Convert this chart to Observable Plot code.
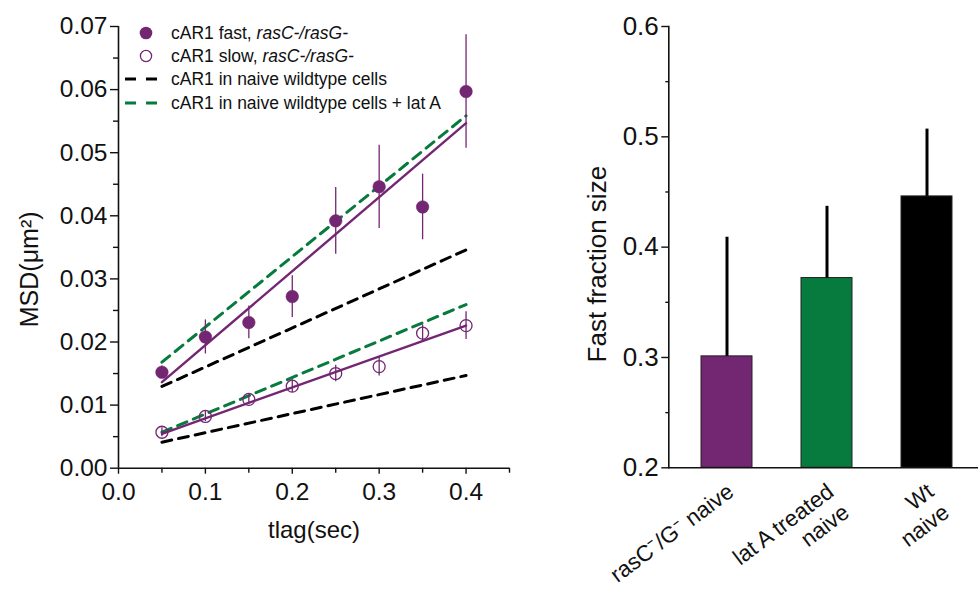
<!DOCTYPE html>
<html><head><meta charset="utf-8">
<script src="https://cdn.jsdelivr.net/npm/d3@7"></script>
<script src="https://cdn.jsdelivr.net/npm/@observablehq/plot@0.6"></script>
<style>
body{margin:0;background:#fff;overflow:hidden}
#wrap{position:relative;width:978px;height:590px;font-family:"Liberation Sans",Arial,sans-serif;color:#111}
#left,#right{position:absolute;top:0}
#left{left:0} #right{left:560px}
.lg{position:absolute;left:0;top:0}
.lgrow{position:absolute;height:24px;display:flex;align-items:center;white-space:nowrap;font-size:17.5px}
.lgmark{position:absolute;left:120px;top:0}
.lgtext{position:absolute;left:171px;top:0;line-height:24px}
</style></head><body>
<div id="wrap"><div id="left"></div><div id="right"></div><div id="legend" class="lg"></div></div>
<script>
// ---------- data: left panel (MSD vs tlag) ----------
const tlag    = [0.05, 0.10, 0.15, 0.20, 0.25, 0.30, 0.35, 0.40];
const fastMSD = [0.0152, 0.0208, 0.0231, 0.0272, 0.0392, 0.0446, 0.0414, 0.0597];
const fastErr = [0.0010, 0.0027, 0.0026, 0.0033, 0.0053, 0.0066, 0.0052, 0.0090];
const slowMSD = [0.0057, 0.0082, 0.0109, 0.0130, 0.0150, 0.0161, 0.0214, 0.0226];
const slowErr = [0.0007, 0.0008, 0.0007, 0.0010, 0.0013, 0.0015, 0.0013, 0.0022];
// fitted lines (value at first and last tlag)
const fitT       = [0.05, 0.40];
const fastFit    = [0.01363, 0.05468];
const slowFit    = [0.00545, 0.02260];
const wtFastFit  = [0.01295, 0.03460];
const wtSlowFit  = [0.00412, 0.01469];
const latFastFit = [0.01680, 0.05585];
const latSlowFit = [0.00570, 0.02594];
const legendLabels = ["cAR1 fast, ", "cAR1 slow, ", "cAR1 in naive wildtype cells", "cAR1 in naive wildtype cells + lat A"];
const legendItalic = ["rasC-/rasG-", "rasC-/rasG-", "", ""];
const xTicks = [0, 0.1, 0.2, 0.3, 0.4];
const xMinor = [0.05, 0.15, 0.25, 0.35, 0.45];
const yTicks = [0, 0.01, 0.02, 0.03, 0.04, 0.05, 0.06, 0.07];
const yMinor = [0.005, 0.015, 0.025, 0.035, 0.045, 0.055, 0.065];

// ---------- data: right panel (fast fraction) ----------
const groups       = ["rasC\u207B/G\u207B naive", "lat A treated\nnaive", "Wt\nnaive"];
const fastFraction = [0.301, 0.372, 0.446];
const fractionErr  = [0.108, 0.065, 0.061];
const barColors    = ["#732672", "#077a3d", "#000000"];
const rTicks = [0.2, 0.3, 0.4, 0.5, 0.6];
const rMinor = [0.25, 0.35, 0.45, 0.55];

const purple = "#732672", green = "#077a3d";
const FONT = "'Liberation Sans', Arial, sans-serif";

const pts = tlag.map((t, i) => ({t, fast: fastMSD[i], fe: fastErr[i], slow: slowMSD[i], se: slowErr[i]}));
const fitRows = (arr) => fitT.map((t, i) => ({t, y: arr[i]}));

const left = Plot.plot({
  width: 560, height: 590,
  marginLeft: 118, marginRight: 51, marginTop: 26, marginBottom: 122.3,
  style: {fontFamily: FONT, background: "white", color: "#111"},
  x: {domain: [0, 0.45]},
  y: {domain: [0, 0.07]},
  marks: [
    Plot.axisY({ticks: yTicks, tickSize: 8, tickPadding: 3, tickFormat: d => d.toFixed(2), fontSize: 24.5, label: null, strokeWidth: 1.4}),
    Plot.axisY({ticks: yMinor, tickSize: 5, tickFormat: () => "", label: null, strokeWidth: 1.4}),
    Plot.axisX({ticks: xTicks, tickSize: 6, tickPadding: 8, tickFormat: d => d.toFixed(1), fontSize: 24.5, label: null, strokeWidth: 1.4}),
    Plot.axisX({ticks: xMinor, tickSize: 5, tickFormat: () => "", label: null, strokeWidth: 1.4}),
    Plot.ruleX([0], {y1: 0, y2: 0.07, strokeWidth: 1.6, stroke: "#111"}),
    Plot.ruleY([0], {x1: 0, x2: 0.45, strokeWidth: 1.6, stroke: "#111"}),
    Plot.line(fitRows(wtFastFit), {x: "t", y: "y", stroke: "black", strokeWidth: 3, strokeDasharray: "10,7"}),
    Plot.line(fitRows(wtSlowFit), {x: "t", y: "y", stroke: "black", strokeWidth: 3, strokeDasharray: "10,7"}),
    Plot.line(fitRows(latFastFit), {x: "t", y: "y", stroke: green, strokeWidth: 3, strokeDasharray: "10,7"}),
    Plot.line(fitRows(latSlowFit), {x: "t", y: "y", stroke: green, strokeWidth: 3, strokeDasharray: "10,7"}),
    Plot.line(fitRows(fastFit), {x: "t", y: "y", stroke: purple, strokeWidth: 2.4}),
    Plot.line(fitRows(slowFit), {x: "t", y: "y", stroke: purple, strokeWidth: 2.4}),
    Plot.ruleX(pts, {x: "t", y1: d => d.fast - d.fe, y2: d => d.fast + d.fe, stroke: purple, strokeWidth: 1.3}),
    Plot.ruleX(pts, {x: "t", y1: d => d.slow - d.se, y2: d => d.slow + d.se, stroke: purple, strokeWidth: 1.3}),
    Plot.dot(pts, {x: "t", y: "fast", r: 6.3, fill: purple, stroke: purple, strokeWidth: 0.5}),
    Plot.dot(pts, {x: "t", y: "slow", r: 6, fill: "none", stroke: purple, strokeWidth: 1.3}),
    Plot.text(["tlag(sec)"], {frameAnchor: "bottom", dy: 70, fontSize: 24, lineAnchor: "bottom"}),
    Plot.text(["MSD(\u03BCm\u00B2)"], {frameAnchor: "left", textAnchor: "middle", rotate: -90, dx: -81, dy: 22, fontSize: 25, lineAnchor: "bottom"})
  ]
});
document.getElementById("left").appendChild(left);

const bars = groups.map((g, i) => ({group: g, value: fastFraction[i], err: fractionErr[i], color: barColors[i]}));
const right = Plot.plot({
  width: 418, height: 590,
  marginLeft: 108.3, marginRight: 0, marginTop: 26, marginBottom: 122.7,
  style: {fontFamily: FONT, background: "white", color: "#111"},
  x: {type: "band", domain: groups, range: [108.3, 424.3], paddingInner: 0.495, paddingOuter: 0.312, axis: null},
  y: {domain: [0.2, 0.6]},
  color: {type: "identity"},
  marks: [
    Plot.axisY({ticks: rTicks, tickSize: 7, tickPadding: 3, tickFormat: d => d.toFixed(1), fontSize: 26, label: null, strokeWidth: 1.4}),
    Plot.axisY({ticks: rMinor, tickSize: 3, tickFormat: () => "", label: null, strokeWidth: 1.4}),
    Plot.barY(bars, {x: "group", y1: 0.2, y2: "value", fill: "color", stroke: "#222", strokeWidth: 1}),
    Plot.ruleX(bars, {x: "group", y1: "value", y2: d => d.value + d.err, stroke: "black", strokeWidth: 3}),
    Plot.frame({anchor: "left", stroke: "#111", strokeWidth: 1.6}),
    Plot.frame({anchor: "bottom", stroke: "#111", strokeWidth: 1.6}),
    Plot.text(bars, {x: "group", text: "group", frameAnchor: "bottom", rotate: -37, textAnchor: "end", lineAnchor: "top", dx: -3, dy: 12, fontSize: 22.5, lineHeight: 1.16}),
    Plot.text(["Fast fraction size"], {frameAnchor: "left", textAnchor: "middle", rotate: -90, dx: -63, dy: 17, fontSize: 26, lineAnchor: "bottom"})
  ]
});
document.getElementById("right").appendChild(right);

// ---------- legend ----------
const lg = document.getElementById("legend");
const rowCenters = [32.7, 56, 79.3, 102.5];
const markers = [
  `<circle cx="26" cy="12" r="6.3" fill="${purple}"/>`,
  `<circle cx="26" cy="12" r="5.6" fill="none" stroke="${purple}" stroke-width="1.3"/>`,
  `<line x1="5" x2="37" y1="12" y2="12" stroke="black" stroke-width="3" stroke-dasharray="11,10"/>`,
  `<line x1="5" x2="37" y1="12" y2="12" stroke="${green}" stroke-width="3" stroke-dasharray="11,10"/>`
];
legendLabels.forEach((lab, i) => {
  const row = document.createElement("div");
  row.className = "lgrow";
  row.style.top = (rowCenters[i] - 12) + "px";
  row.style.left = "0px";
  row.innerHTML = `<svg class="lgmark" width="42" height="24">${markers[i]}</svg>` +
    `<span class="lgtext">${lab}${legendItalic[i] ? `<i>${legendItalic[i]}</i>` : ""}</span>`;
  lg.appendChild(row);
});
</script>
</body></html>
